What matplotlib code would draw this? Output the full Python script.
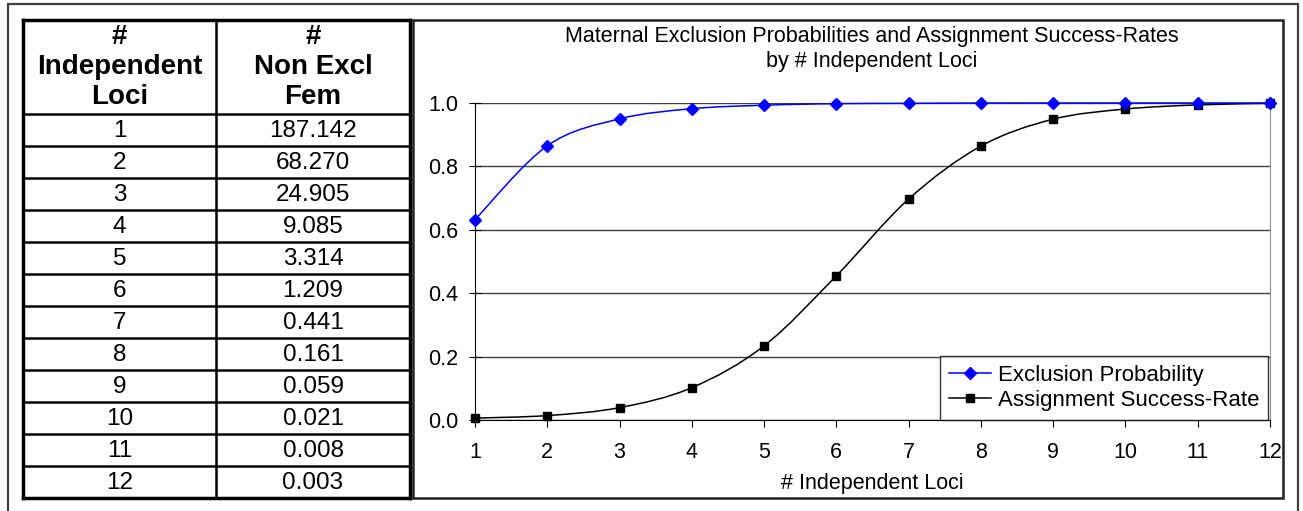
import numpy as np
import matplotlib.pyplot as plt
from matplotlib.patches import Rectangle, PathPatch
from matplotlib.path import Path
from matplotlib.lines import Line2D

plt.rcParams['font.family'] = ['Liberation Sans', 'DejaVu Sans']

# donnees
loci = [1, 2, 3, 4, 5, 6, 7, 8, 9, 10, 11, 12]
non_excl_fem = ["187.142", "68.270", "24.905", "9.085", "3.314", "1.209",
                "0.441", "0.161", "0.059", "0.021", "0.008", "0.003"]
exclusion_prob = [0.632, 0.865, 0.950, 0.982, 0.993, 0.998,
                  0.999, 1.000, 1.000, 1.000, 1.000, 1.000]
assignment_rate = [0.006, 0.014, 0.039, 0.102, 0.234, 0.455,
                   0.697, 0.864, 0.949, 0.981, 0.994, 0.999]
header_1 = "#\nIndependent\nLoci"
header_2 = "#\nNon Excl\nFem"

W, H = 1303, 511
fig = plt.figure(figsize=(W / 100, H / 100), dpi=100)


def fx(px):
    return px / W


def fy(py):
    return 1 - py / H


# courbe lissee (style "ligne lissee" d'Excel) : bezier passant par les points
def chemin_lisse(xs, ys):
    pts = np.column_stack([xs, ys]).astype(float)
    verts = [pts[0]]
    codes = [Path.MOVETO]
    n = len(pts)
    for i in range(n - 1):
        p0 = pts[i - 1] if i > 0 else pts[i]
        p1 = pts[i]
        p2 = pts[i + 1]
        p3 = pts[i + 2] if i + 2 < n else pts[i + 1]
        verts += [p1 + (p2 - p0) / 6, p2 - (p3 - p1) / 6, p2]
        codes += [Path.CURVE4] * 3
    return Path(verts, codes)


# cadre exterieur
fig.add_artist(Rectangle((fx(8), fy(530)), fx(1298) - fx(8), fy(4) - fy(530),
                         transform=fig.transFigure, fill=False,
                         edgecolor='#404040', linewidth=1.6))

# ---- tableau ----
t_left, t_right, t_top, t_bot = 23, 410, 20, 498
ax_t = fig.add_axes([fx(t_left), fy(t_bot), fx(t_right) - fx(t_left), fy(t_top) - fy(t_bot)])
ax_t.set_xlim(t_left, t_right)
ax_t.set_ylim(t_bot, t_top)
ax_t.set_xticks([])
ax_t.set_yticks([])
for s in ax_t.spines.values():
    s.set_linewidth(2.5)
    s.set_color('black')

col_split = 216
head_bot = 114
row_h = (t_bot - head_bot) / len(loci)
ax_t.axvline(col_split, color='black', lw=1.8)
ax_t.axhline(head_bot, color='black', lw=1.8)
for i in range(1, len(loci)):
    ax_t.axhline(head_bot + i * row_h, color='black', lw=1.8)

c1 = (t_left + col_split) / 2
c2 = (col_split + t_right) / 2
ax_t.text(c1, (t_top + head_bot) / 2, header_1, ha='center', va='center',
          fontsize=20, fontweight='bold', linespacing=1.22)
ax_t.text(c2, (t_top + head_bot) / 2, header_2, ha='center', va='center',
          fontsize=20, fontweight='bold', linespacing=1.22)
for i, (n, v) in enumerate(zip(loci, non_excl_fem)):
    yc = head_bot + (i + 0.5) * row_h + 1
    ax_t.text(c1, yc, str(n), ha='center', va='center', fontsize=17.5)
    ax_t.text(c2, yc, v, ha='center', va='center', fontsize=17.5)

# ---- graphique ----
fig.add_artist(Rectangle((fx(413), fy(498)), fx(1283) - fx(413), fy(20) - fy(498),
                         transform=fig.transFigure, fill=False,
                         edgecolor='#202020', linewidth=1.8))

fs = 15.5
p_left, p_right, p_top, p_bot = 475, 1270, 103, 420
ax = fig.add_axes([fx(p_left), fy(p_bot), fx(p_right) - fx(p_left), fy(p_top) - fy(p_bot)])
ax.set_xlim(1, 12)
ax.set_ylim(0, 1)
ax.set_xticks(loci)
ax.set_yticks(np.arange(0, 1.01, 0.2))
ax.set_yticklabels([f"{v:.1f}" for v in np.arange(0, 1.01, 0.2)])
ax.grid(axis='y', color='#404040', linewidth=1.0)
ax.set_axisbelow(True)
ax.spines['top'].set_visible(False)
ax.spines['right'].set_color('#909090')
ax.spines['left'].set_color('black')
ax.spines['bottom'].set_color('black')
ax.tick_params(axis='y', direction='inout', length=8, labelsize=fs, pad=8)
ax.tick_params(axis='x', direction='out', length=5, labelsize=fs, pad=11)

bleu = '#0000FF'
ax.add_patch(PathPatch(chemin_lisse(loci, exclusion_prob), fill=False, edgecolor=bleu,
                       lw=1.1, zorder=4, clip_on=False))
ax.add_patch(PathPatch(chemin_lisse(loci, assignment_rate), fill=False, edgecolor='black',
                       lw=1.1, zorder=3, clip_on=False))
ax.plot(loci, exclusion_prob, ls='none', color=bleu, marker='D', markersize=6,
        clip_on=False, zorder=5)
ax.plot(loci, assignment_rate, ls='none', color='black', marker='s', markersize=6,
        clip_on=False, zorder=4)

ax.set_xlabel('# Independent Loci', fontsize=fs, labelpad=7)
fig.text(fx(872), fy(49), 'Maternal Exclusion Probabilities and Assignment Success-Rates\nby # Independent Loci',
         ha='center', va='center', fontsize=fs, linespacing=1.2)

poignees = [Line2D([], [], color=bleu, lw=1.1, marker='D', markersize=6),
            Line2D([], [], color='black', lw=1.1, marker='s', markersize=6)]
leg = ax.legend(poignees, ['Exclusion Probability', 'Assignment Success-Rate'],
                loc='lower right', bbox_to_anchor=(0.998, 0), borderaxespad=0,
                fancybox=False, frameon=True, fontsize=16, handlelength=1.9,
                borderpad=0.4, labelspacing=0.2, handletextpad=0.3)
leg.get_frame().set_edgecolor('black')
leg.get_frame().set_linewidth(1.0)

fig.savefig('out.png', dpi=100)
